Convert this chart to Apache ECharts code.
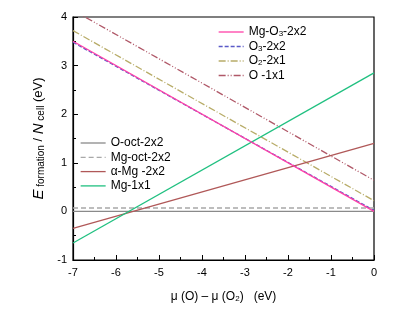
<!DOCTYPE html>
<html><head><meta charset="utf-8">
<script src="https://cdn.jsdelivr.net/npm/echarts@6/dist/echarts.min.js"></script>
<style>html,body{margin:0;padding:0;background:#fff}#c{width:415px;height:309px}</style>
</head><body><div id="c"></div>
<script>
const xEnds = [-7, 0];
const xTicks = ['-7','-6','-5','-4','-3','-2','-1','0'];
const yTicks = ['-1','0','1','2','3','4'];
const names = ['Mg-O3-2x2','O3-2x2','O2-2x1','O -1x1','O-oct-2x2','Mg-oct-2x2','α-Mg -2x2','Mg-1x1'];
const vMgO3 = [3.50, 0.00];
const vO3 = [3.48, 0.02];
const vO2 = [3.72, 0.22];
const vO1 = [4.14, 0.64];
const vOoct = [0.00, 0.00];
const vMgoct = [0.07, 0.07];
const vAlpha = [-0.35, 1.40];
const vMg1 = [-0.65, 2.85];
const colors = ['#ff40a8','#5a5ac8','#b8ac68','#b05868','#8a8a8a','#a8a8a8','#b05858','#20c080'];
const dashes = [null,[4,2],[7,2,1,2],[7,2,1,2,1,2],null,[5,3],null,null];
const vals = [vMgO3,vO3,vO2,vO1,vOoct,vMgoct,vAlpha,vMg1];
const labelRich = {
  n:{fontFamily:'Liberation Sans',fontSize:12,color:'#000',lineHeight:12},
  s:{fontFamily:'Liberation Sans',fontSize:8,color:'#000',verticalAlign:'bottom',lineHeight:4}
};
function fmtName(n){
  if(n==='Mg-O3-2x2') return '{n|Mg-O}{s|3}{n|-2x2}';
  if(n==='O3-2x2') return '{n|O}{s|3}{n|-2x2}';
  if(n==='O2-2x1') return '{n|O}{s|2}{n|-2x1}';
  return '{n|'+n+'}';
}
const chart = echarts.init(document.getElementById('c'));
const series = names.map((n,i)=>({
  name:n,type:'line',showSymbol:false,symbol:'none',
  data: xEnds.map((x,j)=>[x, vals[i][j]]),
  lineStyle:{color:colors[i],width:1.3,type:dashes[i]||'solid'},
  itemStyle:{color:colors[i]},
  emphasis:{disabled:true},
  z: i===0?3:2
}));
chart.setOption({
  animation:false,
  grid:{left:73,right:41,top:17,bottom:49,show:true,borderColor:'#000',borderWidth:1.2},
  legend:[
    {data:names.slice(0,4),orient:'vertical',left:218,top:26,padding:0,itemWidth:25,itemHeight:8,itemGap:2.5,
     itemStyle:{opacity:0},lineStyle:{width:1.3},formatter:fmtName,textStyle:{rich:labelRich}},
    {data:names.slice(4),orient:'vertical',left:80,top:137,padding:0,itemWidth:25,itemHeight:8,itemGap:2.3,
     itemStyle:{opacity:0},lineStyle:{width:1.3},formatter:fmtName,textStyle:{rich:labelRich}}
  ],
  xAxis:{type:'value',min:-7,max:0,interval:1,
    axisLine:{onZero:false,lineStyle:{color:'#000',width:1.2}},
    axisTick:{inside:true,length:5,lineStyle:{color:'#000'}},
    minorTick:{show:true,splitNumber:2,length:3,lineStyle:{color:'#000'}},
    splitLine:{show:false},
    axisLabel:{color:'#000',fontFamily:'Liberation Sans',fontSize:11,margin:7,formatter:(v)=>xTicks[Math.round(v)+7]},
    name:'{n|μ (O) – μ (O}{s|2}{n|)   (eV)}',nameLocation:'middle',nameGap:31,
    nameTextStyle:{rich:{n:{fontFamily:'Liberation Sans',fontSize:12,color:'#000',lineHeight:12},s:{fontFamily:'Liberation Sans',fontSize:8,color:'#000',verticalAlign:'bottom',lineHeight:4}}}
  },
  yAxis:{type:'value',min:-1,max:4,interval:1,
    axisLine:{onZero:false,lineStyle:{color:'#000',width:1.2}},
    axisTick:{inside:true,length:5,lineStyle:{color:'#000'}},
    minorTick:{show:true,splitNumber:2,length:3,lineStyle:{color:'#000'}},
    splitLine:{show:false},
    axisLabel:{color:'#000',fontFamily:'Liberation Sans',fontSize:11,margin:6,formatter:(v)=>yTicks[Math.round(v)+1]},
    name:'{e|E}{s| formation}{n| / }{e|N}{s| cell}{n| (eV)}',nameLocation:'middle',nameGap:21,
    nameTextStyle:{rich:{
      e:{fontFamily:'Liberation Sans',fontSize:15,fontStyle:'italic',color:'#000',lineHeight:15},
      n:{fontFamily:'Liberation Sans',fontSize:13,color:'#000',lineHeight:15},
      s:{fontFamily:'Liberation Sans',fontSize:10,color:'#000',verticalAlign:'bottom',lineHeight:5}
    }}
  },
  series:series
});
</script></body></html>
